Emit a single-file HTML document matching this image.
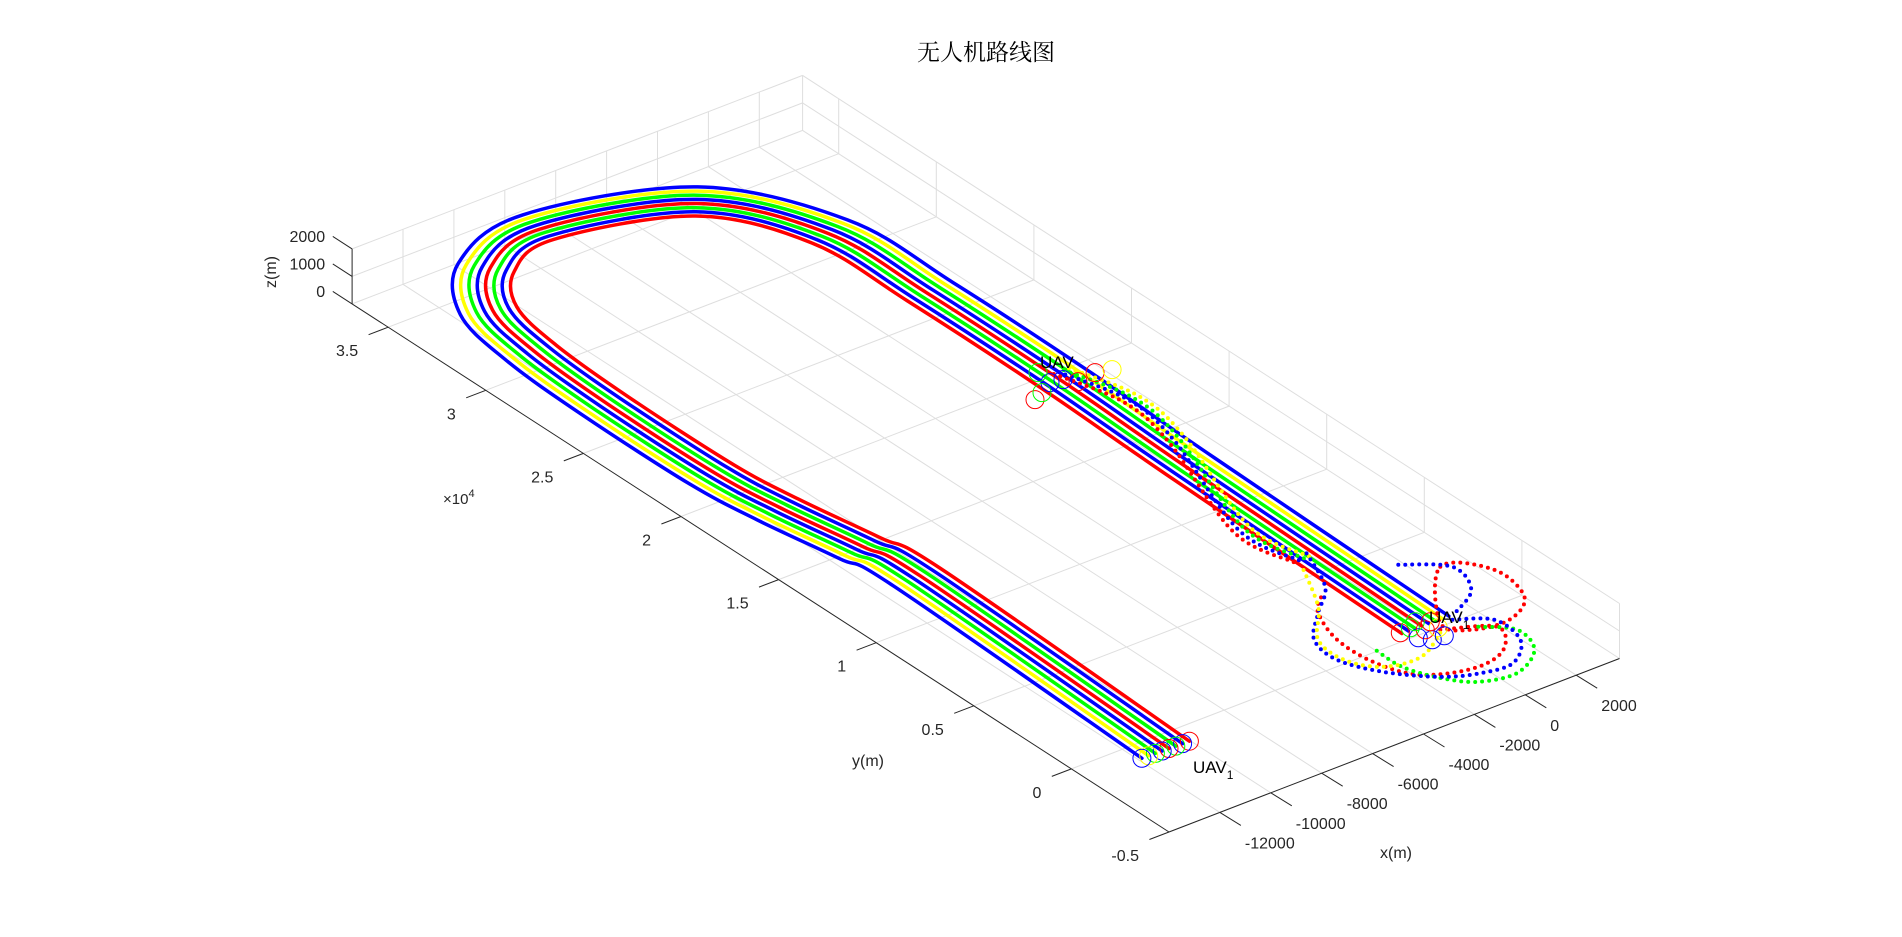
<!DOCTYPE html>
<html><head><meta charset="utf-8"><style>
html,body{margin:0;padding:0;background:#fff;}
svg{display:block;font-family:"Liberation Sans","Noto Sans CJK SC",sans-serif;}
</style></head><body>
<svg id="chart" width="1902" height="937" viewBox="0 0 1902 937" xmlns="http://www.w3.org/2000/svg">
<text x="986" y="60" text-anchor="middle" font-size="23" fill="#000" style='font-family:"Liberation Serif","Noto Serif CJK SC",serif'>无人机路线图</text>
<g id="grid"></g>
<g id="axes"></g>
<g id="series"></g>
<g id="markers"></g>
<text x="1193" y="773" font-size="17" fill="#000">UAV<tspan font-size="12" dy="6">1</tspan></text>
<text x="1040" y="368" font-size="17" fill="#000">UAV</text>
<text x="1429" y="623" font-size="17" fill="#000">UAV<tspan font-size="12" dy="6">1</tspan></text>
<text x="1396" y="858" text-anchor="middle" font-size="16" fill="#262626">x(m)</text>
<text x="868" y="766" text-anchor="middle" font-size="16" fill="#262626">y(m)</text>
<text transform="translate(276,272) rotate(-90)" text-anchor="middle" font-size="16" fill="#262626">z(m)</text>
<text x="443" y="504" font-size="15" fill="#262626">×10<tspan font-size="11" dy="-7">4</tspan></text>
</svg>
<script>
// ---- axis limits / ticks ----
const xTicks = [-12000,-10000,-8000,-6000,-4000,-2000,0,2000];
const yTicks = [-5000,0,5000,10000,15000,20000,25000,30000,35000];
const yTickLabels = ['-0.5','0','0.5','1','1.5','2','2.5','3','3.5'];
const zTicks = [0,1000,2000];
const xLim = [-14000,3700];
const yLim = [-5000,36850];
const zLim = [0,2000];

// ---- route data (metres) ----
const centerX = [-10950,-10500,-10800,-11350,-11640,-11650,-11450,-10900,-9300,-6500,-1613,522,699,671,459,203];
const centerY = [-850,12500,15000,18500,21500,27000,31000,33900,36100,37100,35345,31308,26412,19455,12720,388];
const uavColors = ['#ff0000','#0000ff','#00ff00','#ff0000','#0000ff','#00ff00','#ffff00','#0000ff'];
const uavOffsets = [-910,-650,-390,-130,130,390,650,910];

// dotted manoeuvre paths
const dotConnX = [853,1511,1095,-735,-400];
const dotConnY = [19948,17216,14367,8650,6011];
const loopR1X = [2784,4001,3712,2465,1146,649];
const loopR1Y = [2984,1800,-115,-972,-741,200];
const loopB1X = [1826,3080,2671,1400];
const loopB1Y = [3887,2754,1247,410];
const loopR2X = [382,1902,1173,-204,-1802,-2478,-2538,-1977,-1292];
const loopR2Y = [-148,-1089,-2348,-2706,-2020,-544,1326,3032,3771];
const loopGX = [1434,2280,1937,641,-663,-1448,-1966,-1982];
const loopGY = [-725,-1622,-2941,-3759,-3459,-2533,-1259,102];
const loopB2X = [1060,2095,1973,924,-222,-1410,-2624,-3301,-3105,-1977,-813,15];
const loopB2Y = [119,-685,-2176,-3185,-3089,-2483,-1144,332,1767,3032,4191,6244];
const loopYX = [268,-1115,-2434,-3128,-3006,-1748,-618];
const loopYY = [-297,-1125,-895,198,1690,3331,5625];

// circle markers
const midMarkX = [-831,187,622,916,1678,2211,-392,273];
const midMarkY = [19035,19593,19493,19107,19228,19052,19249,20319];
const midMarkC = ['#ff0000','#0000ff','#0000ff','#ff0000','#ff0000','#ffff00','#00ff00','#00ff00'];
const endMarkX = [-718,-280,-465,12,-196,410,252,71,441];
const endMarkY = [469,526,-124,139,-492,-10,-523,729,441];
const endMarkC = ['#ff0000','#00ff00','#0000ff','#ff0000','#0000ff','#ffff00','#0000ff','#00ff00','#ff0000'];

// ---- projection ----
const F = [1169,832];
const EX = [0.02545,-0.0098], EY = [-0.01952,-0.01262], EZ = [0,-0.0275];
function P(x,y,z){ z=z||0; const dx=x-xLim[0], dy=y-yLim[0];
  return [F[0]+dx*EX[0]+dy*EY[0]+z*EZ[0], F[1]+dx*EX[1]+dy*EY[1]+z*EZ[1]]; }

const NS='http://www.w3.org/2000/svg';
function mk(tag,parent,attrs){ const e=document.createElementNS(NS,tag); for(const k in attrs) e.setAttribute(k,attrs[k]); parent.appendChild(e); return e; }
function line(parent,a,b,col,w){ return mk('line',parent,{x1:a[0].toFixed(1),y1:a[1].toFixed(1),x2:b[0].toFixed(1),y2:b[1].toFixed(1),stroke:col,'stroke-width':w}); }

const grid=document.getElementById('grid'), axes=document.getElementById('axes');
const gc='#dedede';
xTicks.forEach(t=>{ const l=line(grid,P(t,yLim[0],0),P(t,yLim[1],0),gc,1);
    });
yTicks.forEach(t=>{ const l=line(grid,P(xLim[0],t,0),P(xLim[1],t,0),gc,1);
    });
xTicks.forEach(t=>{ const l=line(grid,P(t,yLim[1],0),P(t,yLim[1],zLim[1]),gc,1);
    });
zTicks.forEach(t=>{ const l=line(grid,P(xLim[0],yLim[1],t),P(xLim[1],yLim[1],t),gc,1);
    });
yTicks.forEach(t=>{ const l=line(grid,P(xLim[1],t,0),P(xLim[1],t,zLim[1]),gc,1);
    });
zTicks.forEach(t=>{ const l=line(grid,P(xLim[1],yLim[0],t),P(xLim[1],yLim[1],t),gc,1);
    });
line(grid,P(xLim[1],yLim[1],0),P(xLim[1],yLim[1],zLim[1]),gc,1);

const ac='#262626';
let al=line(axes,P(xLim[0],yLim[0],0),P(xLim[0],yLim[1],0),ac,1);
 
al=line(axes,P(xLim[0],yLim[0],0),P(xLim[1],yLim[0],0),ac,1);
 
al=line(axes,P(xLim[0],yLim[1],0),P(xLim[0],yLim[1],zLim[1]),ac,1);
 

function txt(parent,x,y,s,anchor){ const t=mk('text',parent,{x:x.toFixed(1),y:y.toFixed(1),'font-size':16,fill:ac,'text-anchor':anchor}); t.textContent=s; return t; }
yTicks.forEach((t,i)=>{ const p=P(xLim[0],t,0);
  const tk=line(axes,p,[p[0]-19.6,p[1]+7.5],ac,1);
   
  const lb=txt(axes,p[0]-30,p[1]+29,yTickLabels[i],'end');
    });
xTicks.forEach(t=>{ const p=P(t,yLim[0],0);
  const tk=line(axes,p,[p[0]+21,p[1]+13],ac,1);
   
  const lb=txt(axes,p[0]+25,p[1]+36,String(t),'start');
    });
zTicks.forEach(t=>{ const p=P(xLim[0],yLim[1],t);
  const tk=line(axes,p,[p[0]-19.3,p[1]-12.5],ac,1);
   
  const lb=txt(axes,p[0]-27,p[1]-7,String(t),'end');
    });

function smooth(pts,closed){
  let d='M'+pts[0][0].toFixed(1)+','+pts[0][1].toFixed(1);
  const n=pts.length;
  const g=i=> closed ? pts[(i+n)%n] : pts[Math.max(0,Math.min(n-1,i))];
  const last = closed ? n : n-1;
  for(let i=0;i<last;i++){
    const p0=g(i-1),p1=g(i),p2=g(i+1),p3=g(i+2);
    const c1=[p1[0]+(p2[0]-p0[0])/6,p1[1]+(p2[1]-p0[1])/6];
    const c2=[p2[0]-(p3[0]-p1[0])/6,p2[1]-(p3[1]-p1[1])/6];
    d+=' C'+c1[0].toFixed(1)+','+c1[1].toFixed(1)+' '+c2[0].toFixed(1)+','+c2[1].toFixed(1)+' '+p2[0].toFixed(1)+','+p2[1].toFixed(1);
  }
  return d;
}

const series=document.getElementById('series');
uavOffsets.forEach((off,k)=>{
  const pts=[];
  for(let i=0;i<centerX.length;i++){
    const a=Math.max(0,i-1), b=Math.min(centerX.length-1,i+1);
    let tx=centerX[b]-centerX[a], ty=centerY[b]-centerY[a];
    const L=Math.hypot(tx,ty)||1; tx/=L; ty/=L;
    pts.push(P(centerX[i]+(-ty)*off, centerY[i]+tx*off, 0));
  }
  const path=mk('path',series,{d:smooth(pts,false),fill:'none',stroke:uavColors[k],'stroke-width':3.5,'stroke-linecap':'round','stroke-linejoin':'round'});
  
  
  const c=mk('circle',document.getElementById('markers'),{cx:pts[0][0].toFixed(1),cy:pts[0][1].toFixed(1),r:9,fill:'none',stroke:uavColors[k],'stroke-width':1});
  
  
});

function dotted(xs,ys,col,closed,name,shift){
  const pts=xs.map((x,i)=>P(x+(shift||0),ys[i],0));
  const p=mk('path',series,{d:smooth(pts,closed),fill:'none',stroke:col,'stroke-width':4,'stroke-linecap':'round','stroke-dasharray':'0 7'});
  
  
}
dotted(dotConnX,dotConnY,'#ff0000',false,'dotted-connector-red',-250);
dotted(dotConnX,dotConnY,'#00ff00',false,'dotted-connector-green',150);
dotted(dotConnX,dotConnY,'#0000ff',false,'dotted-connector-blue',-50);
dotted(dotConnX,dotConnY,'#ffff00',false,'dotted-connector-yellow',350);
dotted(loopR1X,loopR1Y,'#ff0000',true,'dotted-loop-red-1');
dotted(loopB1X,loopB1Y,'#0000ff',false,'dotted-loop-blue-1');
dotted(loopR2X,loopR2Y,'#ff0000',false,'dotted-loop-red-2');
dotted(loopGX,loopGY,'#00ff00',false,'dotted-loop-green');
dotted(loopB2X,loopB2Y,'#0000ff',false,'dotted-loop-blue-2');
dotted(loopYX,loopYY,'#ffff00',false,'dotted-loop-yellow');

const markers=document.getElementById('markers');
midMarkX.forEach((x,i)=>{ const p=P(x,midMarkY[i],0);
  const c=mk('circle',markers,{cx:p[0].toFixed(1),cy:p[1].toFixed(1),r:9,fill:'none',stroke:midMarkC[i],'stroke-width':1});
  
   });
endMarkX.forEach((x,i)=>{ const p=P(x,endMarkY[i],0);
  const c=mk('circle',markers,{cx:p[0].toFixed(1),cy:p[1].toFixed(1),r:9,fill:'none',stroke:endMarkC[i],'stroke-width':1});
  
   });
</script>
</body></html>
